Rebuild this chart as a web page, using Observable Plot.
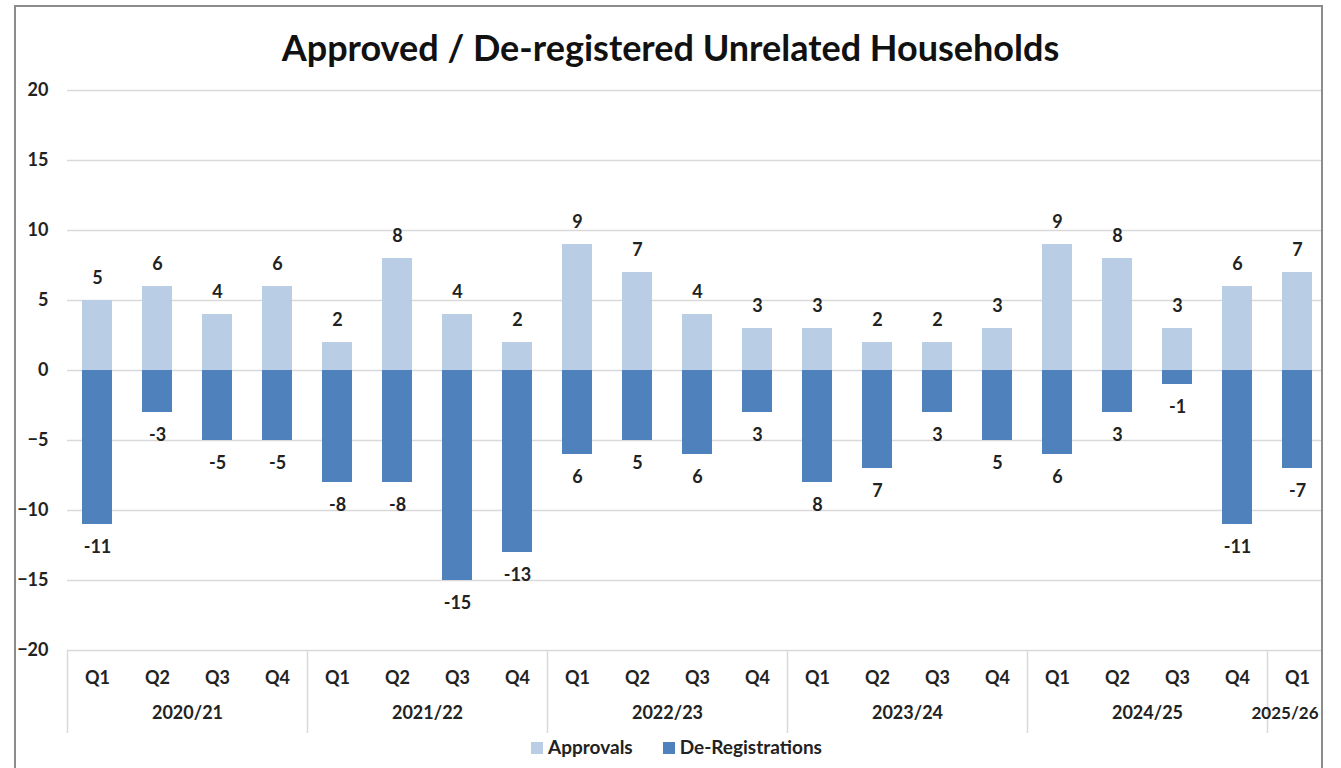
<!DOCTYPE html>
<html>
<head>
<meta charset="utf-8">
<script src="https://cdn.jsdelivr.net/npm/d3@7"></script>
<script src="https://cdn.jsdelivr.net/npm/@observablehq/plot@0.6"></script>
<style>
  body { margin: 0; background: #fff; font-family: Lato, "Open Sans", sans-serif; }
  #frame { position: absolute; left: 14px; top: 5px; width: 1305px; height: 800px;
           border: 2px solid #8c8c8c; overflow: hidden; background: #fff; }
  #chart { position: absolute; left: -16px; top: -7px; width: 1341px; height: 768px; }
  #chart svg { max-width: none !important; }
  #title { position: absolute; left: -16px; width: 1341px; top: 20px; text-align: center;
           font-weight: bold; font-size: 36px; line-height: 40px; color: #111; }
  #legend { position: absolute; left: -16px; width: 1341px; top: 728px; text-align: center;
            font-weight: bold; font-size: 19px; line-height: 24px; color: #222; padding-left: 12px; box-sizing: border-box; }
  #legend span.sw { display: inline-block; width: 12px; height: 12px; margin-right: 5px; vertical-align: 0px; }
  #legend span.item { margin: 0 15px; }
  #chart text { font-family: Lato, "Open Sans", sans-serif; }
</style>
</head>
<body>
<div id="frame">
  <div id="chart"></div>
  <div id="title">Approved / De-registered Unrelated Households</div>
  <div id="legend"></div>
</div>
<script>
// ---- data ----
const years = ["2020/21", "2021/22", "2022/23", "2023/24", "2024/25", "2025/26"];
const periodYear = ["2020/21","2020/21","2020/21","2020/21","2021/22","2021/22","2021/22","2021/22",
  "2022/23","2022/23","2022/23","2022/23","2023/24","2023/24","2023/24","2023/24",
  "2024/25","2024/25","2024/25","2024/25","2025/26"];
const periodQuarter = ["Q1","Q2","Q3","Q4","Q1","Q2","Q3","Q4","Q1","Q2","Q3","Q4",
  "Q1","Q2","Q3","Q4","Q1","Q2","Q3","Q4","Q1"];
const approvals = [5, 6, 4, 6, 2, 8, 4, 2, 9, 7, 4, 3, 3, 2, 2, 3, 9, 8, 3, 6, 7];
const deregistrations = [-11, -3, -5, -5, -8, -8, -15, -13, -6, -5, -6, -3, -8, -7, -3, -5, -6, -3, -1, -11, -7];
const deregLabels = ["-11","-3","-5","-5","-8","-8","-15","-13","6","5","6","3","8","7","3","5","6","3","-1","-11","-7"];
const yTicks = [-20, -15, -10, -5, 0, 5, 10, 15, 20];
const seriesNames = ["Approvals", "De-Registrations"];
const colors = ["#B9CDE5", "#4F81BD"];

// ---- derived tables ----
const keys = periodYear.map((y, i) => y + " " + periodQuarter[i]);
const rows = keys.map((k, i) => ({
  key: k, year: periodYear[i], q: periodQuarter[i],
  approvals: approvals[i], dereg: deregistrations[i], deregLabel: deregLabels[i]
}));
const groupStarts = rows.filter(r => r.q === "Q1");
const fullYears = years.filter(y => periodYear.filter(p => p === y).length === 4)
  .map(y => ({year: y, key: y + " Q2"}));
const partialYears = years.filter(y => periodYear.filter(p => p === y).length < 4)
  .map(y => ({year: y, key: y + " Q1"}));

const W = 1341, H = 768, mTop = 90, mBottom = 118, mLeft = 67, mRight = 14;
const plotH = H - mTop - mBottom;
const font = 18;

const chart = Plot.plot({
  width: W, height: H,
  marginTop: mTop, marginBottom: mBottom, marginLeft: mLeft, marginRight: mRight,
  style: {fontFamily: "Lato, 'Open Sans', sans-serif", background: "transparent", overflow: "visible", maxWidth: "none"},
  x: {type: "band", domain: keys, paddingInner: 0.5, paddingOuter: 0.25, label: null},
  y: {domain: [-20, 20], ticks: yTicks, label: null},
  marks: [
    Plot.gridY(yTicks, {stroke: "#d9d9d9", strokeOpacity: 1, strokeWidth: 1.5}),
    Plot.axisY(yTicks, {tickSize: 0, tickPadding: 19, fontSize: font, fontWeight: "bold", fill: "#222", label: null}),
    Plot.barY(rows, {x: "key", y: "approvals", fill: colors[0]}),
    Plot.barY(rows, {x: "key", y: "dereg", fill: colors[1]}),
    Plot.text(rows, {x: "key", y: "approvals", text: d => String(d.approvals), dy: -22,
      fontSize: font, fontWeight: "bold", fill: "#222"}),
    Plot.text(rows, {x: "key", y: "dereg", text: "deregLabel", dy: 23,
      fontSize: font, fontWeight: "bold", fill: "#222"}),
    Plot.axisX({tickSize: 0, tickPadding: 21, tickFormat: k => k.split(" ")[1],
      fontSize: font, fontWeight: "bold", fill: "#222", label: null}),
    Plot.ruleX(groupStarts, {x: "key", dx: -30, stroke: "#d9d9d9", strokeWidth: 1.5,
      insetTop: plotH, insetBottom: -83}),
    Plot.text(fullYears, {x: "key", text: "year", dx: 30, frameAnchor: "bottom", dy: 68,
      fontSize: font, fontWeight: "bold", fill: "#222"}),
    Plot.text(partialYears, {x: "key", text: "year", dx: -46, frameAnchor: "bottom", dy: 68,
      textAnchor: "start", fontSize: 17, fontWeight: "bold", fill: "#222"})
  ]
});
document.getElementById("chart").appendChild(chart);

// legend
const legend = document.getElementById("legend");
seriesNames.forEach((name, i) => {
  const item = document.createElement("span");
  item.className = "item";
  const sw = document.createElement("span");
  sw.className = "sw";
  sw.style.background = colors[i];
  item.appendChild(sw);
  item.appendChild(document.createTextNode(name));
  legend.appendChild(item);
});
</script>
</body>
</html>
